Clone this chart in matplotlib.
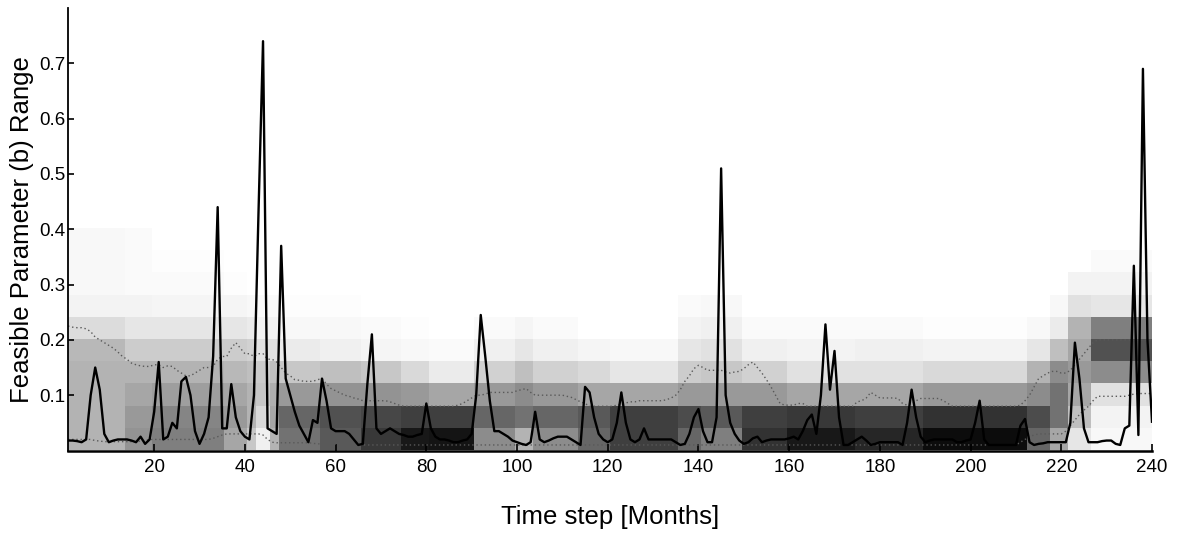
import numpy as np
import matplotlib
matplotlib.use("Agg")
import matplotlib.pyplot as plt

plt.rcParams['font.family'] = ['Liberation Sans', 'DejaVu Sans']

months = np.arange(1, 241)

# observed parameter (black line), one value per month
obs = [0.018, 0.018, 0.017, 0.015, 0.02, 0.10, 0.15, 0.11, 0.03, 0.015,
       0.018, 0.02, 0.02, 0.02, 0.018, 0.015, 0.025, 0.012, 0.02, 0.07,
       0.16, 0.02, 0.025, 0.05, 0.04, 0.125, 0.133, 0.10, 0.035, 0.012,
       0.03, 0.06, 0.17, 0.44, 0.04, 0.04, 0.12, 0.06, 0.035, 0.025,
       0.02, 0.10, 0.43, 0.74, 0.04, 0.035, 0.03, 0.37, 0.13, 0.10,
       0.07, 0.045, 0.03, 0.015, 0.055, 0.05, 0.13, 0.09, 0.04, 0.035,
       0.035, 0.035, 0.03, 0.02, 0.01, 0.012, 0.12, 0.21, 0.04, 0.03,
       0.035, 0.04, 0.035, 0.03, 0.028, 0.025, 0.025, 0.028, 0.03, 0.085,
       0.04, 0.025, 0.02, 0.02, 0.018, 0.015, 0.015, 0.018, 0.02, 0.03,
       0.10, 0.245, 0.17, 0.09, 0.035, 0.035, 0.03, 0.025, 0.018, 0.015,
       0.012, 0.01, 0.015, 0.07, 0.02, 0.015, 0.018, 0.022, 0.025, 0.025,
       0.025, 0.02, 0.015, 0.01, 0.115, 0.105, 0.06, 0.03, 0.02, 0.015,
       0.02, 0.05, 0.105, 0.05, 0.02, 0.015, 0.02, 0.04, 0.02, 0.02,
       0.02, 0.02, 0.02, 0.02, 0.015, 0.01, 0.012, 0.03, 0.06, 0.075,
       0.035, 0.015, 0.015, 0.06, 0.51, 0.10, 0.05, 0.03, 0.018, 0.012,
       0.015, 0.022, 0.025, 0.015, 0.018, 0.02, 0.02, 0.02, 0.02, 0.022,
       0.025, 0.02, 0.035, 0.055, 0.065, 0.03, 0.10, 0.228, 0.11, 0.18,
       0.06, 0.01, 0.01, 0.015, 0.02, 0.025, 0.018, 0.01, 0.012, 0.015,
       0.015, 0.015, 0.015, 0.015, 0.01, 0.05, 0.11, 0.06, 0.025, 0.015,
       0.018, 0.02, 0.02, 0.02, 0.02, 0.02, 0.015, 0.015, 0.018, 0.02,
       0.05, 0.09, 0.02, 0.01, 0.01, 0.01, 0.01, 0.01, 0.01, 0.01,
       0.045, 0.057, 0.015, 0.01, 0.012, 0.013, 0.015, 0.015, 0.015, 0.015,
       0.015, 0.05, 0.195, 0.13, 0.04, 0.015, 0.015, 0.015, 0.017, 0.018,
       0.018, 0.012, 0.01, 0.04, 0.045, 0.334, 0.028, 0.69, 0.2, 0.052]

# upper bound of feasible range (dotted)
upper = [0.225, 0.223, 0.222, 0.222, 0.22, 0.215, 0.205, 0.2, 0.195, 0.19,
         0.185, 0.178, 0.17, 0.165, 0.158, 0.155, 0.153, 0.152, 0.152, 0.155,
         0.155, 0.15, 0.153, 0.152, 0.145, 0.14, 0.135, 0.135, 0.14, 0.145,
         0.15, 0.15, 0.152, 0.165, 0.17, 0.17, 0.185, 0.195, 0.185, 0.175,
         0.175, 0.17, 0.175, 0.175, 0.165, 0.165, 0.16, 0.15, 0.14, 0.135,
         0.128, 0.127, 0.125, 0.125, 0.125, 0.128, 0.13, 0.12, 0.112, 0.108,
         0.104, 0.1, 0.098, 0.095, 0.093, 0.09, 0.09, 0.09, 0.09, 0.09,
         0.09, 0.088, 0.085, 0.082, 0.08, 0.08, 0.08, 0.08, 0.08, 0.08,
         0.08, 0.08, 0.08, 0.08, 0.08, 0.08, 0.082, 0.085, 0.09, 0.095,
         0.1, 0.1, 0.102, 0.105, 0.105, 0.105, 0.105, 0.105, 0.105, 0.108,
         0.11, 0.112, 0.105, 0.1, 0.1, 0.1, 0.1, 0.1, 0.1, 0.1,
         0.098, 0.096, 0.092, 0.088, 0.085, 0.08, 0.08, 0.08, 0.08, 0.08,
         0.08, 0.082, 0.084, 0.086, 0.088, 0.088, 0.09, 0.09, 0.09, 0.09,
         0.09, 0.09, 0.092, 0.095, 0.1, 0.11, 0.125, 0.135, 0.148, 0.154,
         0.15, 0.145, 0.145, 0.145, 0.145, 0.142, 0.14, 0.142, 0.143, 0.148,
         0.155, 0.16, 0.15, 0.14, 0.128, 0.115, 0.1, 0.085, 0.082, 0.082,
         0.082, 0.085, 0.085, 0.08, 0.08, 0.08, 0.08, 0.08, 0.08, 0.08,
         0.08, 0.08, 0.08, 0.08, 0.088, 0.09, 0.095, 0.105, 0.1, 0.095,
         0.095, 0.095, 0.095, 0.094, 0.085, 0.082, 0.085, 0.09, 0.094, 0.094,
         0.094, 0.094, 0.094, 0.09, 0.085, 0.08, 0.08, 0.08, 0.08, 0.08,
         0.08, 0.08, 0.08, 0.08, 0.08, 0.08, 0.08, 0.08, 0.08, 0.08,
         0.082, 0.09, 0.1, 0.115, 0.13, 0.135, 0.14, 0.143, 0.143, 0.14,
         0.14, 0.145, 0.155, 0.165, 0.175, 0.185, 0.195, 0.2, 0.2, 0.2,
         0.2, 0.2, 0.2, 0.2, 0.2, 0.2, 0.2, 0.2, 0.2, 0.2]

# lower bound of feasible range (dotted)
lower = [0.02, 0.02, 0.02, 0.02, 0.02, 0.02, 0.018, 0.017, 0.016, 0.016,
         0.016, 0.016, 0.016, 0.016, 0.016, 0.016, 0.017, 0.018, 0.02, 0.02,
         0.02, 0.02, 0.02, 0.02, 0.02, 0.02, 0.02, 0.02, 0.02, 0.02,
         0.02, 0.02, 0.022, 0.025, 0.028, 0.03, 0.03, 0.03, 0.03, 0.03,
         0.03, 0.03, 0.03, 0.028, 0.02, 0.015, 0.014, 0.014, 0.014, 0.014,
         0.014, 0.014, 0.014, 0.014, 0.013, 0.012, 0.012, 0.012, 0.012, 0.012,
         0.012, 0.012, 0.011, 0.011, 0.01, 0.01, 0.01, 0.01, 0.01, 0.01,
         0.01, 0.01, 0.01, 0.01, 0.01, 0.01, 0.01, 0.01, 0.01, 0.01,
         0.01, 0.01, 0.01, 0.01, 0.01, 0.01, 0.01, 0.01, 0.01, 0.01,
         0.01, 0.01, 0.01, 0.01, 0.01, 0.01, 0.01, 0.01, 0.01, 0.01,
         0.01, 0.01, 0.01, 0.01, 0.01, 0.01, 0.01, 0.01, 0.01, 0.01,
         0.01, 0.01, 0.01, 0.01, 0.01, 0.01, 0.01, 0.01, 0.01, 0.01,
         0.01, 0.01, 0.01, 0.01, 0.01, 0.01, 0.01, 0.01, 0.01, 0.01,
         0.01, 0.01, 0.01, 0.01, 0.01, 0.01, 0.01, 0.01, 0.01, 0.01,
         0.01, 0.01, 0.01, 0.01, 0.01, 0.01, 0.01, 0.01, 0.01, 0.01,
         0.01, 0.01, 0.01, 0.01, 0.01, 0.01, 0.01, 0.01, 0.01, 0.01,
         0.01, 0.01, 0.01, 0.01, 0.01, 0.01, 0.01, 0.01, 0.01, 0.01,
         0.01, 0.01, 0.01, 0.01, 0.01, 0.01, 0.01, 0.01, 0.01, 0.01,
         0.01, 0.01, 0.01, 0.01, 0.01, 0.01, 0.01, 0.01, 0.01, 0.01,
         0.01, 0.01, 0.01, 0.01, 0.01, 0.01, 0.01, 0.01, 0.01, 0.01,
         0.01, 0.01, 0.01, 0.01, 0.01, 0.01, 0.01, 0.01, 0.01, 0.01,
         0.015, 0.02, 0.025, 0.028, 0.03, 0.03, 0.03, 0.03, 0.03, 0.03,
         0.035, 0.045, 0.055, 0.065, 0.073, 0.08, 0.09, 0.098, 0.098, 0.098,
         0.098, 0.098, 0.098, 0.098, 0.1, 0.102, 0.103, 0.103, 0.103, 0.103]

# feasible-set density: parameter bins of 0.04 from 0 to 0.4,
# shade (0 = white, 1 = black) per bin for each run of months
bin_edges = [0.0, 0.04, 0.08, 0.12, 0.16, 0.20, 0.24, 0.28, 0.32, 0.36, 0.40]
seg_start = [1, 14, 20, 36, 41, 43, 46, 48, 57, 66, 75, 81, 91, 100, 104, 114,
             121, 136, 141, 150, 160, 175, 190, 213, 218, 222, 227]
shade = [
    [0.30, 0.30, 0.30, 0.30, 0.28, 0.14, 0.05, 0.03, 0.03, 0.03],
    [0.42, 0.40, 0.35, 0.30, 0.20, 0.10, 0.05, 0.02, 0.02, 0.02],
    [0.50, 0.48, 0.38, 0.30, 0.20, 0.10, 0.04, 0.02, 0.01, 0.00],
    [0.35, 0.40, 0.35, 0.28, 0.20, 0.10, 0.04, 0.01, 0.00, 0.00],
    [0.22, 0.30, 0.30, 0.25, 0.18, 0.08, 0.03, 0.00, 0.00, 0.00],
    [0.06, 0.15, 0.22, 0.20, 0.12, 0.05, 0.02, 0.00, 0.00, 0.00],
    [0.30, 0.35, 0.32, 0.25, 0.12, 0.05, 0.02, 0.00, 0.00, 0.00],
    [0.55, 0.60, 0.40, 0.22, 0.08, 0.03, 0.01, 0.00, 0.00, 0.00],
    [0.65, 0.68, 0.42, 0.25, 0.06, 0.03, 0.01, 0.00, 0.00, 0.00],
    [0.78, 0.72, 0.42, 0.22, 0.04, 0.02, 0.00, 0.00, 0.00, 0.00],
    [0.90, 0.75, 0.40, 0.15, 0.03, 0.01, 0.00, 0.00, 0.00, 0.00],
    [0.92, 0.75, 0.35, 0.08, 0.02, 0.00, 0.00, 0.00, 0.00, 0.00],
    [0.45, 0.60, 0.40, 0.18, 0.06, 0.02, 0.00, 0.00, 0.00, 0.00],
    [0.30, 0.55, 0.45, 0.25, 0.10, 0.04, 0.00, 0.00, 0.00, 0.00],
    [0.45, 0.60, 0.40, 0.18, 0.06, 0.02, 0.00, 0.00, 0.00, 0.00],
    [0.60, 0.65, 0.35, 0.15, 0.04, 0.00, 0.00, 0.00, 0.00, 0.00],
    [0.75, 0.75, 0.35, 0.10, 0.03, 0.00, 0.00, 0.00, 0.00, 0.00],
    [0.60, 0.70, 0.40, 0.20, 0.10, 0.05, 0.02, 0.00, 0.00, 0.00],
    [0.50, 0.65, 0.40, 0.22, 0.12, 0.06, 0.03, 0.00, 0.00, 0.00],
    [0.80, 0.75, 0.40, 0.18, 0.06, 0.02, 0.00, 0.00, 0.00, 0.00],
    [0.90, 0.78, 0.35, 0.12, 0.05, 0.02, 0.00, 0.00, 0.00, 0.00],
    [0.85, 0.75, 0.35, 0.12, 0.06, 0.02, 0.00, 0.00, 0.00, 0.00],
    [0.95, 0.80, 0.40, 0.15, 0.05, 0.01, 0.00, 0.00, 0.00, 0.00],
    [0.60, 0.70, 0.45, 0.30, 0.10, 0.03, 0.00, 0.00, 0.00, 0.00],
    [0.35, 0.55, 0.55, 0.45, 0.25, 0.08, 0.03, 0.00, 0.00, 0.00],
    [0.10, 0.25, 0.35, 0.40, 0.35, 0.30, 0.12, 0.05, 0.00, 0.00],
    [0.03, 0.05, 0.12, 0.45, 0.68, 0.50, 0.10, 0.05, 0.02, 0.00],
]

x_ticks = [20, 40, 60, 80, 100, 120, 140, 160, 180, 200, 220, 240]
y_ticks = [0.1, 0.2, 0.3, 0.4, 0.5, 0.6, 0.7]

seg_len = np.diff(seg_start + [241])
grid = np.repeat(np.array(shade).T, seg_len, axis=1)

fig = plt.figure(figsize=(11.82, 5.37), dpi=100)
ax = fig.add_axes([68 / 1182, 86.5 / 537, 1084 / 1182, 442.5 / 537])

ax.imshow(grid, origin='lower', aspect='auto', cmap='gray_r', vmin=0, vmax=1,
          extent=(0.5, 240.5, bin_edges[0], bin_edges[-1]),
          interpolation='nearest', zorder=1)
ax.plot(months, upper, color='0.35', linestyle=(0, (1, 2)), linewidth=1, zorder=2)
ax.plot(months, lower, color='0.35', linestyle=(0, (1, 2)), linewidth=1, zorder=2)
ax.plot(months, obs, color='black', linewidth=1.7, zorder=3)

ax.set_xlim(1, 240)
ax.set_ylim(0, 0.8)
ax.set_xticks(x_ticks)
ax.set_yticks(y_ticks)
ax.set_yticklabels([f'{v:.1f}' for v in y_ticks])
ax.tick_params(axis='both', direction='in', labelsize=13.5, color='black')
ax.tick_params(axis='x', length=5, width=1.2, pad=6)
ax.tick_params(axis='y', length=4, width=1.2, pad=2)

ax.spines['top'].set_visible(False)
ax.spines['right'].set_visible(False)
ax.spines['left'].set_linewidth(1.3)
ax.spines['bottom'].set_linewidth(1.8)

ax.set_xlabel('Time step [Months]', fontsize=18.5, labelpad=21)
ax.set_ylabel('Feasible Parameter (b) Range', fontsize=18.5)
ax.yaxis.set_label_coords(-0.031, 0.5)

fig.savefig('out.png', dpi=100)
